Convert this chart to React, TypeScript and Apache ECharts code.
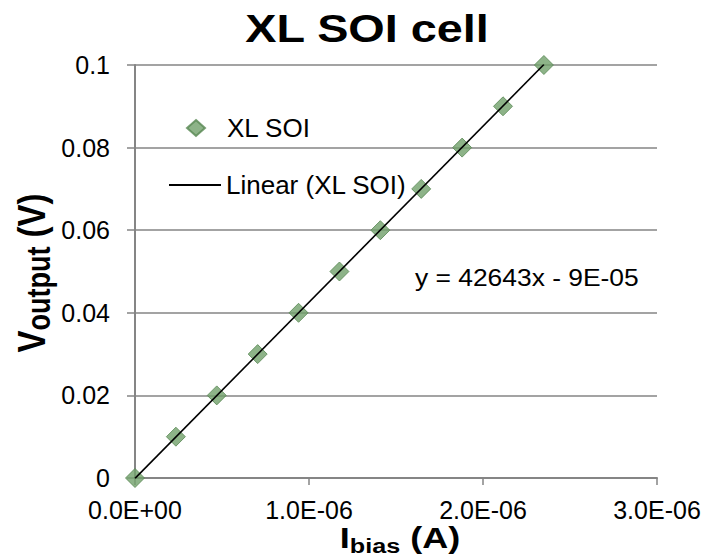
import React, { useEffect, useRef } from 'react';
import * as echarts from 'echarts';

const seriesName = 'XL SOI';
const trendName = 'Linear (XL SOI)';
const biasCurrent = [0, 0.235e-6, 0.47e-6, 0.705e-6, 0.94e-6, 1.175e-6, 1.41e-6, 1.645e-6, 1.88e-6, 2.115e-6, 2.35e-6];
const outputVoltage = [0, 0.01, 0.02, 0.03, 0.04, 0.05, 0.06, 0.07, 0.08, 0.09, 0.1];
const trendSlope = 42643;
const trendIntercept = -9e-5;
const equationLabel = 'y = 42643x - 9E-05';
const titleText = 'XL SOI cell';
const xRange = [0, 3e-6];
const xStep = 1e-6;
const yRange = [0, 0.1];
const yStep = 0.02;

const FONT = '"Liberation Sans", Arial, sans-serif';

const sci = (v: number) => {
  const [m, e] = v.toExponential(1).split('e');
  const n = parseInt(e, 10);
  return `${m}E${n < 0 ? '-' : '+'}${String(Math.abs(n)).padStart(2, '0')}`;
};

export default function App() {
  const ref = useRef<HTMLDivElement>(null);
  useEffect(() => {
    if (!ref.current) return;
    const chart = echarts.init(ref.current, null, { renderer: 'svg' });
    const points = biasCurrent.map((x, i) => [x, outputVoltage[i]]);
    const xMin = Math.min(...biasCurrent);
    const xMax = Math.max(...biasCurrent);
    const trend = [
      [xMin, trendSlope * xMin + trendIntercept],
      [xMax, trendSlope * xMax + trendIntercept],
    ];
    const gray = '#858585';
    const legendText = { fontSize: 26, color: '#000', fontFamily: FONT };
    chart.setOption({
      animation: false,
      backgroundColor: '#fff',
      textStyle: { fontFamily: FONT },
      grid: { left: 135, right: 51, top: 65, bottom: 82, containLabel: false },
      legend: [
        {
          orient: 'vertical',
          left: 181,
          top: 110,
          itemWidth: 18,
          itemHeight: 16,
          selectedMode: false,
          textStyle: { ...legendText, padding: [0, 0, 0, 17] },
          data: [{ name: seriesName, icon: 'diamond' }],
        },
        {
          orient: 'vertical',
          left: 163,
          top: 167,
          itemWidth: 52,
          itemHeight: 16,
          selectedMode: false,
          textStyle: legendText,
          data: [{ name: trendName, itemStyle: { opacity: 0 } }],
        },
      ],
      xAxis: {
        type: 'value',
        min: xRange[0],
        max: xRange[1],
        interval: xStep,
        axisLine: { lineStyle: { color: gray, width: 2 } },
        axisTick: { show: true, length: 7, lineStyle: { color: gray, width: 1.5 } },
        splitLine: { show: false },
        axisLabel: { fontSize: 25, color: '#000', margin: 19, fontFamily: FONT, formatter: (v: number) => sci(v) },
      },
      yAxis: {
        type: 'value',
        min: yRange[0],
        max: yRange[1],
        interval: yStep,
        axisLine: { show: true, lineStyle: { color: gray, width: 2 } },
        axisTick: { show: true, length: 8, lineStyle: { color: gray, width: 1.5 } },
        splitLine: { show: true, lineStyle: { color: gray, width: 1.5 } },
        axisLabel: {
          fontSize: 25,
          color: '#000',
          margin: 25,
          fontFamily: FONT,
          formatter: (v: number) => String(parseFloat(v.toFixed(2))),
        },
      },
      graphic: [
        {
          type: 'text',
          x: 367,
          y: 28,
          scaleX: 1.2,
          style: {
            text: titleText,
            align: 'center',
            verticalAlign: 'middle',
            fontSize: 39,
            fontWeight: 'bold',
            fontFamily: FONT,
            fill: '#000',
          },
        },
        {
          type: 'text',
          x: 415,
          y: 277,
          scaleX: 1.1,
          style: {
            text: equationLabel,
            align: 'left',
            verticalAlign: 'middle',
            fontSize: 24,
            fontFamily: FONT,
            fill: '#000',
          },
        },
        {
          type: 'text',
          x: 400,
          y: 538,
          scaleX: 1.2,
          style: {
            text: '{a|I}{b|bias}{a| (A)}',
            align: 'center',
            verticalAlign: 'middle',
            fill: '#000',
            rich: {
              a: { fontSize: 30, fontWeight: 'bold', fontFamily: FONT, lineHeight: 36, fill: '#000' },
              b: { fontSize: 21, fontWeight: 'bold', fontFamily: FONT, lineHeight: 12, verticalAlign: 'bottom', fill: '#000' },
            },
          },
        },
        {
          type: 'text',
          x: 31,
          y: 273,
          rotation: Math.PI / 2,
          scaleY: 1.2,
          style: {
            text: '{a|V}{b|output}{a| (V)}',
            align: 'center',
            verticalAlign: 'middle',
            fill: '#000',
            rich: {
              a: { fontSize: 33, fontWeight: 'bold', fontFamily: FONT, lineHeight: 40, fill: '#000' },
              b: { fontSize: 27, fontWeight: 'bold', fontFamily: FONT, lineHeight: 22, verticalAlign: 'bottom', fill: '#000' },
            },
          },
        },
      ],
      series: [
        {
          name: seriesName,
          type: 'scatter',
          data: points,
          symbol: 'diamond',
          symbolSize: 19,
          clip: false,
          itemStyle: { color: '#70A06A', borderColor: '#578752', borderWidth: 1 },
        },
        {
          name: trendName,
          type: 'line',
          data: trend,
          symbol: 'none',
          lineStyle: { color: '#000', width: 1.6 },
        },
      ],
    });
    return () => chart.dispose();
  }, []);
  return <div ref={ref} style={{ position: 'fixed', left: 0, top: 0, width: 708, height: 560 }} />;
}
